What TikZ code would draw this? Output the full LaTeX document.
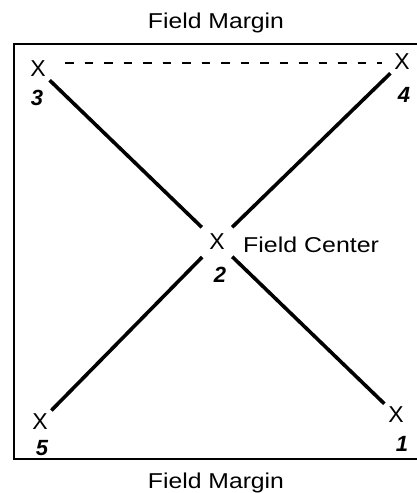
\documentclass[tikz,border=0pt]{standalone}
\usepackage{fontspec}
\setmainfont{Liberation Sans}
\usetikzlibrary{calc}
\tikzset{
  mark x/.style={circle, inner sep=0pt, minimum size=32pt, font=\fontsize{23}{25}\selectfont},
  center x/.style={circle, inner sep=0pt, minimum size=42pt, font=\fontsize{23}{25}\selectfont},
  numlbl/.style={inner sep=0pt, font=\fontsize{22}{24}\selectfont\bfseries\itshape},
  caption/.style={inner sep=0pt, font=\fontsize{21.5}{24}\selectfont},
  transect/.style={line width=3.6pt},
  frame/.style={line width=2.2pt},
  walk/.style={line width=2pt, dash pattern=on 8.5pt off 11pt}
}
\begin{document}
\begin{tikzpicture}[x=1pt,y=-1pt]
\useasboundingbox (0,0) rectangle (416,493);
% frame (right side runs off the page)
\draw[frame] (420,44) -- (14,44) -- (14,459) -- (420,459);
% captions
\node[caption, anchor=base] (topm) at (216,28) {\scalebox{1.15}[1]{Field Margin}};
\node[caption, anchor=base] (botm) at (216,488) {\scalebox{1.15}[1]{Field Margin}};
% sample points
\node[mark x] (x3) at (38,69) {X};
\node[mark x] (x4) at (402,62) {X};
\node[center x] (x2) at (217,242) {X};
\node[mark x] (x5) at (40,422) {X};
\node[mark x] (x1) at (396,415) {X};
\node[caption, anchor=base west] (fc) at (243,252) {\scalebox{1.16}[1]{Field Center}};
% numbers
\node[numlbl] (n3) at (37,98) {3};
\node[numlbl] (n4) at (404,95) {4};
\node[numlbl] (n2) at (220,275) {2};
\node[numlbl] (n5) at (42,448) {5};
\node[numlbl] (n1) at (402,444) {1};
% transects
\draw[transect] (x3) -- (x2);
\draw[transect] (x4) -- (x2);
\draw[transect] (x2) -- (x5);
\draw[transect] (x2) -- (x1);
\draw[walk] ($(x3.center)+(27,-6)$) -- ($(x4.center)+(-20,1)$);
\end{tikzpicture}
\end{document}
